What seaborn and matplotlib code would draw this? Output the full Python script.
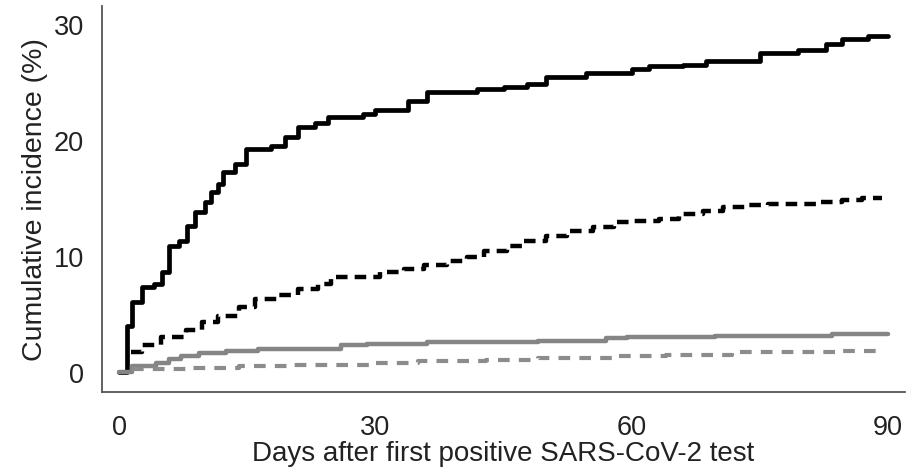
import matplotlib
matplotlib.use("Agg")
import matplotlib.pyplot as plt
import seaborn as sns
import pandas as pd

# ---- data ----
black_solid_days = [0, 0.9, 1.5, 2.7, 4.1, 5.0, 5.8, 7.0, 7.9, 8.9, 10.0, 10.8, 11.6, 12.2,
                    13.6, 14.8, 17.8, 19.4, 21.0, 22.9, 24.4, 28.5, 30.0, 33.8, 36.1, 41.9,
                    45.0, 47.7, 50.0, 54.7, 60.0, 62.0, 66.0, 68.7, 75.0, 79.5, 82.7, 84.6,
                    87.7, 90.0]
black_solid_vals = [0, 4.0, 6.0, 7.3, 7.6, 8.6, 10.9, 11.3, 12.6, 13.8, 14.7, 15.5, 16.2, 17.2,
                    17.9, 19.2, 19.5, 20.3, 21.1, 21.5, 22.0, 22.2, 22.6, 23.4, 24.1, 24.4,
                    24.6, 24.8, 25.4, 25.8, 26.1, 26.4, 26.5, 26.8, 27.5, 27.8, 28.3, 28.7,
                    29.0, 29.0]

black_dash_days = [1.4, 2.7, 4.9, 7.8, 9.7, 11.6, 14.0, 15.9, 18.6, 21.0, 23.3, 24.8, 30.6,
                   33.4, 35.7, 38.4, 40.7, 42.7, 45.4, 47.4, 50.0, 52.4, 55.5, 57.9, 60.2,
                   63.2, 65.5, 68.3, 70.7, 73.3, 76.0, 81.8, 84.6, 87.0, 89.3]
black_dash_vals = [1.7, 2.3, 3.0, 3.6, 4.3, 4.8, 5.6, 6.3, 6.6, 7.2, 7.6, 8.2, 8.6,
                   8.9, 9.2, 9.6, 9.9, 10.4, 10.9, 11.3, 11.7, 12.2, 12.5, 12.9, 13.0,
                   13.2, 13.6, 13.9, 14.2, 14.4, 14.5, 14.7, 14.8, 15.0, 15.0]

grey_solid_days = [0, 1.5, 4.3, 5.8, 7.3, 9.3, 12.5, 16.3, 26.0, 29.0, 36.0, 49.0, 57.0,
                   59.5, 69.8, 83.5, 90.0]
grey_solid_vals = [0, 0.5, 0.8, 1.1, 1.4, 1.6, 1.8, 2.0, 2.3, 2.4, 2.6, 2.7, 2.9,
                   3.0, 3.1, 3.3, 3.3]

grey_dash_days = [1.5, 8.1, 14.0, 20.0, 29.5, 35.0, 43.0, 49.0, 58.0, 64.0, 71.8, 83.8, 89.0]
grey_dash_vals = [0.3, 0.35, 0.5, 0.6, 0.8, 0.95, 1.0, 1.2, 1.35, 1.5, 1.7, 1.8, 1.8]

x_ticks = [0, 30, 60, 90]
y_ticks = [0, 10, 20, 30]
x_label = "Days after first positive SARS-CoV-2 test"
y_label = "Cumulative incidence (%)"

# ---- figure ----
sns.set_theme(style="white")
plt.rcParams["font.family"] = ["Liberation Sans", "DejaVu Sans"]

fig = plt.figure(figsize=(9.10, 4.77), dpi=100)
ax = fig.add_axes([0.1121, 0.1761, 0.8824, 0.8092])

series = [
    (black_solid_days, black_solid_vals, dict(color="black", linewidth=3.4, linestyle="-")),
    (black_dash_days, black_dash_vals, dict(color="black", linewidth=3.2, linestyle=(0, (2.6, 1.6)))),
    (grey_solid_days, grey_solid_vals, dict(color="#858585", linewidth=3.2, linestyle="-")),
    (grey_dash_days, grey_dash_vals, dict(color="#8c8c8c", linewidth=3.0, linestyle=(0, (2.8, 2.2)))),
]
for d, v, style in series:
    df = pd.DataFrame({"day": d, "val": v})
    sns.lineplot(data=df, x="day", y="val", ax=ax, estimator=None, sort=False,
                 drawstyle="steps-post", **style)

ax.set_xlim(-2.0, 92.0)
ax.set_ylim(-1.72, 31.55)
ax.set_xticks(x_ticks)
ax.set_yticks(y_ticks)
ax.set_xlabel(x_label, fontsize=20, color="#222222", labelpad=0)
ax.set_ylabel(y_label, fontsize=20.5, color="#222222", labelpad=4)

for s in ["top", "right"]:
    ax.spines[s].set_visible(False)
for s in ["left", "bottom"]:
    ax.spines[s].set_color("#555555")
    ax.spines[s].set_linewidth(1.3)

ax.tick_params(axis="both", which="major", direction="out", length=7, width=1.3,
               color="#555555", labelsize=19.5, labelcolor="#222222", pad=6)
ax.tick_params(axis="x", length=8, pad=8)
ax.grid(False)

fig.savefig("out.png", dpi=100)
